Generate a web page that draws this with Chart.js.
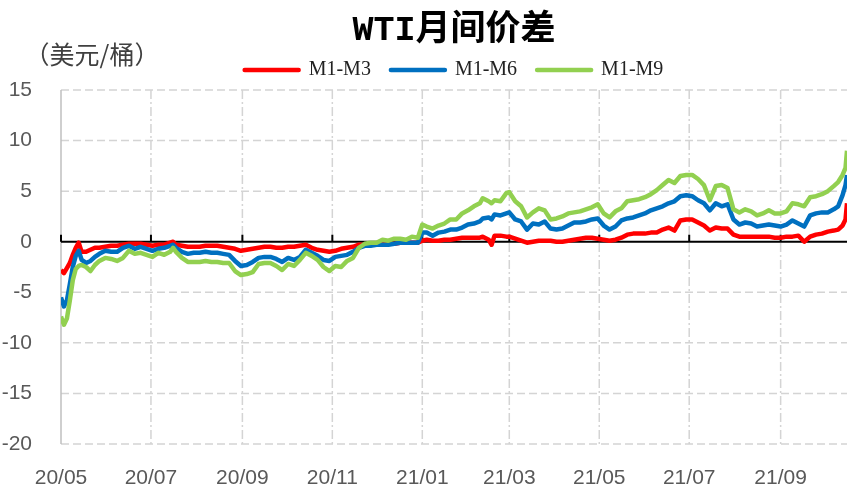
<!DOCTYPE html>
<html>
<head>
<meta charset="utf-8">
<script src="https://cdn.jsdelivr.net/npm/chart.js@4.4.1/dist/chart.umd.min.js"></script>
<style>
  html, body { margin: 0; padding: 0; background: #fff; }
</style>
</head>
<body>
<canvas id="wtiChart" width="847" height="488"></canvas>
<script>
// days counted from 2020-05-01
const days = [0,2,4,6,8,10,12,14,17,20,
  23,26,30,34,38,42,46,50,54,58,
  62,66,70,74,76,78,82,86,90,94,
  98,102,106,110,114,118,122,126,130,134,
  138,142,146,150,154,158,162,166,170,174,
  178,182,186,190,194,198,202,206,210,214,
  218,222,226,230,234,238,242,245,248,252,
  256,260,264,268,272,276,280,284,286,290,
  292,294,298,302,304,308,312,316,320,324,
  328,332,336,340,344,348,352,356,360,364,
  368,372,376,380,384,388,392,396,400,404,
  408,412,416,420,424,428,432,436,440,444,
  448,452,456,460,464,468,472,476,480,484,
  488,492,496,500,504,508,512,516,520,524,
  527,530,532,533];

const m1m3 = [-2.8,-3.1,-2.6,-2.1,-1.3,-0.6,-0.1,-1.0,-1.0,-0.8,
  -0.6,-0.6,-0.5,-0.4,-0.4,-0.3,-0.2,-0.2,-0.2,-0.3,
  -0.4,-0.3,-0.3,-0.1,0.0,-0.3,-0.4,-0.5,-0.5,-0.5,
  -0.4,-0.4,-0.4,-0.5,-0.6,-0.7,-0.9,-0.8,-0.7,-0.6,
  -0.5,-0.5,-0.6,-0.6,-0.5,-0.5,-0.4,-0.3,-0.6,-0.8,
  -0.9,-1.0,-0.9,-0.7,-0.6,-0.5,-0.3,-0.3,-0.3,-0.3,
  -0.2,-0.2,-0.2,-0.1,-0.1,-0.1,-0.1,0.1,0.2,0.1,
  0.1,0.2,0.2,0.3,0.4,0.4,0.4,0.4,0.5,0.2,
  -0.3,0.6,0.6,0.5,0.5,0.3,0.1,-0.1,0.0,0.1,
  0.1,0.1,0.0,0.0,0.1,0.2,0.3,0.4,0.4,0.3,
  0.2,0.1,0.2,0.4,0.7,0.8,0.8,0.8,0.9,0.9,
  1.2,1.4,1.1,2.1,2.2,2.2,1.9,1.6,1.1,1.4,
  1.3,1.3,0.7,0.5,0.5,0.5,0.5,0.5,0.5,0.4,
  0.4,0.5,0.5,0.6,0.0,0.5,0.7,0.8,1.0,1.1,
  1.2,1.6,2.2,3.8];

const m1m6 = [-5.5,-6.4,-5.8,-4.2,-2.5,-1.4,-0.9,-1.8,-2.1,-1.9,
  -1.5,-1.2,-0.9,-1.0,-1.0,-0.6,-0.4,-0.7,-0.5,-0.7,
  -0.9,-0.7,-0.6,-0.4,-0.3,-0.6,-1.0,-1.2,-1.1,-1.1,
  -1.0,-1.1,-1.1,-1.2,-1.3,-1.9,-2.4,-2.3,-2.0,-1.6,
  -1.5,-1.5,-1.7,-2.0,-1.6,-1.8,-1.5,-0.8,-1.1,-1.4,
  -1.8,-1.9,-1.5,-1.4,-1.3,-1.0,-0.6,-0.4,-0.4,-0.3,
  -0.3,-0.3,-0.2,-0.1,-0.1,-0.1,-0.1,0.9,0.9,0.6,
  0.9,1.0,1.2,1.2,1.4,1.7,1.8,2.0,2.3,2.4,
  2.2,2.7,2.6,2.8,2.9,2.2,2.0,1.2,1.8,1.7,
  2.0,1.3,1.2,1.3,1.6,1.9,1.9,2.0,2.2,2.3,
  1.6,1.2,1.5,2.1,2.3,2.4,2.6,2.8,3.1,3.3,
  3.5,3.8,4.0,4.5,4.6,4.5,4.1,3.8,3.1,3.8,
  3.5,3.7,2.2,1.7,1.9,1.8,1.5,1.6,1.7,1.6,
  1.5,1.7,2.1,1.8,1.5,2.6,2.8,2.9,2.9,3.2,
  3.5,4.6,5.6,6.6];

const m1m9 = [-7.4,-8.2,-7.6,-5.8,-3.8,-2.7,-2.4,-2.3,-2.5,-2.9,
  -2.3,-1.9,-1.6,-1.7,-1.9,-1.6,-0.9,-1.2,-1.1,-1.3,
  -1.5,-1.1,-1.3,-1.0,-0.6,-1.0,-1.6,-2.0,-2.0,-2.0,
  -1.9,-2.0,-2.0,-2.1,-2.1,-2.9,-3.3,-3.2,-3.0,-2.2,
  -2.1,-2.1,-2.4,-2.8,-2.2,-2.4,-1.8,-1.1,-1.4,-1.8,
  -2.5,-2.9,-2.4,-2.5,-1.9,-1.6,-0.6,-0.2,-0.1,-0.1,
  0.2,0.1,0.3,0.3,0.2,0.5,0.4,1.7,1.5,1.3,
  1.6,1.8,2.2,2.2,2.8,3.1,3.5,3.8,4.3,4.0,
  3.8,4.1,4.0,4.8,4.9,4.0,3.5,2.4,2.9,3.3,
  3.1,2.2,2.3,2.5,2.8,2.9,3.0,3.2,3.4,3.7,
  2.8,2.4,3.0,3.3,4.0,4.1,4.2,4.4,4.7,5.1,
  5.6,6.1,5.8,6.5,6.6,6.6,6.2,5.6,4.1,5.5,
  5.6,5.3,3.2,2.9,3.2,3.0,2.6,2.8,3.1,2.8,
  2.8,3.0,3.8,3.7,3.5,4.4,4.5,4.7,5.0,5.5,
  5.9,6.6,7.3,9.0];

// month starts (days from 2020-05-01) and their labels
const tickDays = [0, 61, 123, 184, 245, 304, 365, 426, 488];
const tickLabels = ['20/05', '20/07', '20/09', '20/11', '21/01', '21/03', '21/05', '21/07', '21/09'];
const yTicks = [-20, -15, -10, -5, 0, 5, 10, 15];

const toPoints = (vals) => days.map((d, i) => ({ x: d, y: vals[i] }));

// excel style grid, zero axis with tick marks, unit label
const gridPlugin = {
  id: 'excelGrid',
  beforeDatasetsDraw(chart) {
    const { ctx, chartArea: { left, right, top, bottom }, scales: { x, y } } = chart;
    ctx.save();
    ctx.lineWidth = 1.5;
    ctx.strokeStyle = '#d4d4d4';

    ctx.setLineDash([9, 3, 2, 3]);
    tickDays.forEach(d => {
      if (d === 0) return;
      const px = x.getPixelForValue(d);
      ctx.beginPath();
      ctx.moveTo(px, top);
      ctx.lineTo(px, bottom);
      ctx.stroke();
    });

    ctx.setLineDash([8, 4]);
    yTicks.forEach(v => {
      if (v === 0) return;
      const py = y.getPixelForValue(v);
      ctx.beginPath();
      ctx.moveTo(left, py);
      ctx.lineTo(right, py);
      ctx.stroke();
    });

    ctx.setLineDash([]);
    ctx.strokeStyle = '#bfbfbf';
    ctx.beginPath();
    ctx.moveTo(left, top);
    ctx.lineTo(left, bottom);
    ctx.stroke();

    const y0 = y.getPixelForValue(0);
    ctx.strokeStyle = '#000';
    ctx.lineWidth = 2;
    ctx.beginPath();
    ctx.moveTo(left, y0);
    ctx.lineTo(right, y0);
    tickDays.forEach(d => {
      const px = x.getPixelForValue(d);
      ctx.moveTo(px, y0);
      ctx.lineTo(px, y0 - 7);
    });
    ctx.stroke();

    ctx.fillStyle = '#404040';
    ctx.font = '25px "Noto Sans CJK SC"';
    ctx.textAlign = 'center';
    ctx.textBaseline = 'middle';
    ctx.fillText('（美元/桶）', 92, 54);
    ctx.restore();
  }
};

const tickFont = { family: '"Liberation Sans", Arial, sans-serif', size: 21 };

new Chart(document.getElementById('wtiChart').getContext('2d'), {
  type: 'line',
  data: {
    datasets: [{
      label: 'M1-M3',
      data: toPoints(m1m3),
      borderColor: '#ff0000',
      backgroundColor: '#ff0000',
      order: 3
    }, {
      label: 'M1-M6',
      data: toPoints(m1m6),
      borderColor: '#0070c0',
      backgroundColor: '#0070c0',
      order: 2
    }, {
      label: 'M1-M9',
      data: toPoints(m1m9),
      borderColor: '#92d050',
      backgroundColor: '#92d050',
      order: 1
    }]
  },
  options: {
    responsive: false,
    animation: false,
    layout: { padding: 0 },
    elements: {
      line: { borderWidth: 4.5, tension: 0, borderJoinStyle: 'round' },
      point: { radius: 0 }
    },
    plugins: {
      title: {
        display: true,
        fullSize: false,
        text: 'WTI月间价差',
        color: '#000',
        font: { family: '"Liberation Mono", "Noto Sans CJK SC", monospace', size: 35, weight: 'bold' },
        padding: { top: 10, bottom: -12 }
      },
      legend: {
        display: true,
        fullSize: false,
        labels: {
          boxWidth: 54,
          boxHeight: 0,
          padding: 20,
          color: '#222',
          font: { family: '"Liberation Serif", serif', size: 20 },
          sort: (a, b) => a.datasetIndex - b.datasetIndex
        }
      },
      tooltip: { enabled: false }
    },
    scales: {
      x: {
        type: 'linear',
        min: 0,
        max: 533,
        afterBuildTicks: (axis) => { axis.ticks = tickDays.map(v => ({ value: v })); },
        afterFit: (axis) => { axis.height = 44; },
        ticks: {
          autoSkip: false,
          maxRotation: 0,
          padding: 22,
          color: '#595959',
          font: tickFont,
          callback: (v, i) => tickLabels[i]
        },
        grid: { display: false, drawTicks: false },
        border: { display: false }
      },
      y: {
        min: -20,
        max: 15,
        afterFit: (axis) => { axis.width = 61; },
        ticks: {
          stepSize: 5,
          padding: 29,
          color: '#595959',
          font: tickFont
        },
        grid: { display: false, drawTicks: false },
        border: { display: false }
      }
    }
  },
  plugins: [gridPlugin]
});
</script>
</body>
</html>
